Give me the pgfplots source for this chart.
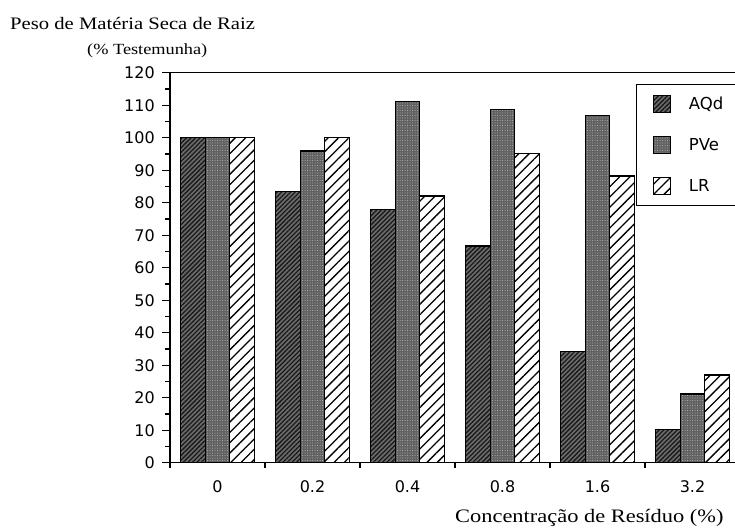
\documentclass[border=0pt]{standalone}
\usepackage{fontspec}
\setmainfont{Liberation Serif}[FakeStretch=1.18]
\newfontfamily\sansf{DejaVu Sans}
\usepackage{pgfplots}
\pgfplotsset{compat=1.18}
\usetikzlibrary{patterns.meta}

\begin{document}
\begin{tikzpicture}[x=1pt,y=1pt]
\useasboundingbox (-170,-65.3) rectangle (565,462.7);
\begin{axis}[
  at={(0,0)}, anchor=south west,
  scale only axis, width=565pt, height=390pt,
  xmin=-0.5, xmax=5.447, ymin=0, ymax=120,
  axis x line*=box, axis y line*=left,
  axis line style={line width=1.4pt},
  ybar=0pt, bar width=24.5pt,
  xtick={0,...,5}, xticklabels={0,0.2,0.4,0.8,1.6,3.2},
  minor xtick={-0.5,0.5,1.5,2.5,3.5,4.5},
  major x tick style={draw=none},
  ytick={0,10,...,120}, minor ytick={5,15,...,115},
  tick align=outside, major tick length=8pt, minor tick length=5pt,
  tick style={line width=1.3pt, black},
  xtick pos=left, ytick pos=left,
  ticklabel style={font=\sansf\fontsize{16}{16}\selectfont},
  /pgf/number format/assume math mode=true,
  yticklabel style={xshift=-3.7pt},
  xticklabel style={yshift=-6pt},
  legend image code/.code={\draw[#1] (0pt,-8.5pt) rectangle (17pt,8.5pt);},
  legend style={at={(rel axis cs:0.8248,0.9712)}, anchor=north west,
    draw=black, line width=1.2pt, fill=white,
    inner xsep=16pt, inner ysep=10pt, row sep=23pt,
    nodes={inner sep=0pt},
    font=\sansf\fontsize{16.5}{16.5}\selectfont,
    /tikz/every odd column/.append style={column sep=18pt}},
  legend cell align=left,
]
\addplot[draw=black, line width=1.3pt, fill=black!58,
  postaction={pattern={Lines[angle=45,distance=3.2pt,line width=1.3pt]}, pattern color=black!90}]
  coordinates {(0,100) (1,83.4) (2,78) (3,66.7) (4,34.2) (5,10.3)};
\addplot[draw=black, line width=1.3pt, fill=black!62,
  postaction={pattern={Dots[distance=2.5pt,radius=0.5pt]}, pattern color=black!28}]
  coordinates {(0,100) (1,95.9) (2,111.1) (3,108.7) (4,106.8) (5,21.1)};
\addplot[draw=black, line width=1.3pt, fill=white,
  postaction={pattern={Lines[angle=45,distance=7.3pt,line width=1.3pt]}, pattern color=black}]
  coordinates {(0,100) (1,100) (2,82.1) (3,95.2) (4,88.2) (5,27)};
\legend{AQd,PVe,LR}
\end{axis}
\node[anchor=base west, font=\fontsize{17.5}{17.5}\selectfont, inner sep=0pt] at (-160,432.7) {Peso de Matéria Seca de Raiz};
\node[anchor=base west, font=\fontsize{15.5}{15.5}\selectfont, inner sep=0pt] at (-83,407.7) {(\% Testemunha)};
\node[anchor=base west, font=\fontsize{19}{19}\selectfont, inner sep=0pt] at (285,-60) {Concentração de Resíduo (\%)};
\end{tikzpicture}
\end{document}
